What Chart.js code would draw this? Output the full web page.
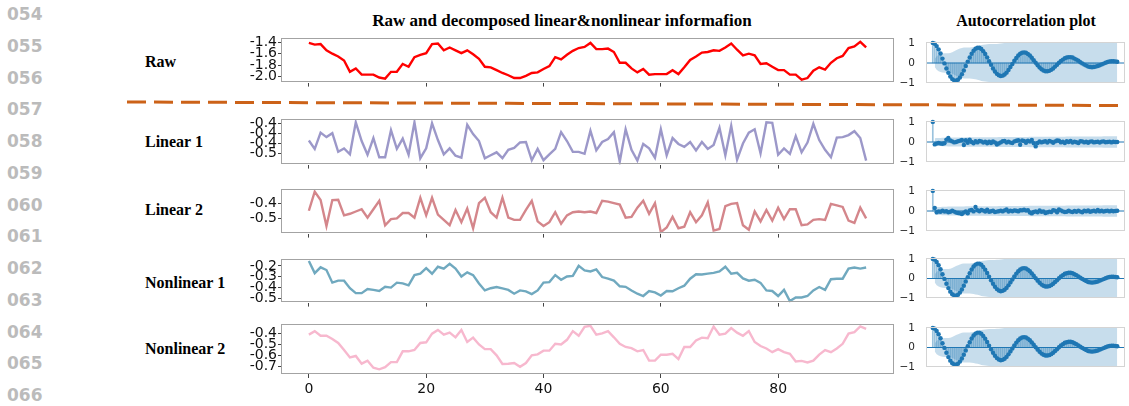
<!DOCTYPE html>
<html lang="en">
<head>
<meta charset="UTF-8">
<title>Raw and decomposed linear&amp;nonlinear informafion</title>
<script src="https://cdn.jsdelivr.net/npm/chart.js"></script>
<style>
  body { margin: 0; background: #fff; }
  #page { position: relative; width: 1129px; height: 406px; overflow: hidden; background: #fff; }
  .num { position: absolute; left: 7px; font: bold 17px 'DejaVu Sans'; line-height: 17px; color: #bbbbbb; }
  .row { position: absolute; left: 145px; font: bold 16px 'Liberation Serif'; line-height: 16px; color: #000; white-space: nowrap; }
  .title { position: absolute; font: bold 17px 'Liberation Serif'; line-height: 17px; color: #000; white-space: nowrap; transform: translateX(-50%); }
  canvas { position: absolute; }
  svg { position: absolute; left: 0; top: 0; }
</style>
</head>
<body>
<div id="page">
  <!-- margin line numbers -->
  <div class="num" style="top:6px">054</div>
  <div class="num" style="top:37.5px">055</div>
  <div class="num" style="top:69.5px">056</div>
  <div class="num" style="top:101px">057</div>
  <div class="num" style="top:133px">058</div>
  <div class="num" style="top:164.5px">059</div>
  <div class="num" style="top:196.5px">060</div>
  <div class="num" style="top:228px">061</div>
  <div class="num" style="top:260px">062</div>
  <div class="num" style="top:291.5px">063</div>
  <div class="num" style="top:323.5px">064</div>
  <div class="num" style="top:355px">065</div>
  <div class="num" style="top:387px">066</div>

  <div class="title" style="left:562px; top:12px">Raw and decomposed linear&amp;nonlinear informafion</div>
  <div class="title" style="left:1026px; top:12px; font-size:16px">Autocorrelation plot</div>

  <div class="row" style="top:54px">Raw</div>
  <div class="row" style="top:134px">Linear 1</div>
  <div class="row" style="top:202px">Linear 2</div>
  <div class="row" style="top:275px">Nonlinear 1</div>
  <div class="row" style="top:341px">Nonlinear 2</div>

  <!-- separator between raw series and its components -->
  <svg width="1129" height="406">
    <line x1="127" y1="102" x2="1121" y2="105.5" stroke="#cc6218" stroke-width="3" stroke-dasharray="19 8"/>
  </svg>
</div>

<script>
  Chart.defaults.font.family = "'DejaVu Sans'";
  Chart.defaults.animation = false;

  const xTicks = [0, 20, 40, 60, 80];

  const rawValues = [
    -1.41, -1.44, -1.43, -1.54, -1.60, -1.65, -1.72, -1.92, -1.86, -1.97,
    -1.97, -1.97, -2.02, -2.04, -1.92, -1.92, -1.78, -1.83, -1.66, -1.62,
    -1.59, -1.43, -1.42, -1.54, -1.49, -1.54, -1.59, -1.54, -1.61, -1.69,
    -1.83, -1.84, -1.89, -1.94, -1.98, -2.03, -2.03, -1.99, -1.94, -1.93,
    -1.87, -1.82, -1.66, -1.70, -1.62, -1.55, -1.50, -1.48, -1.41, -1.52,
    -1.52, -1.51, -1.57, -1.76, -1.76, -1.86, -1.93, -1.87, -1.97, -1.96,
    -1.96, -1.96, -1.89, -1.96, -1.84, -1.71, -1.65, -1.58, -1.57, -1.54,
    -1.55, -1.49, -1.42, -1.53, -1.63, -1.60, -1.63, -1.78, -1.77, -1.83,
    -1.89, -1.89, -1.97, -1.97, -2.06, -2.03, -1.90, -1.84, -1.88, -1.76,
    -1.68, -1.64, -1.50, -1.47, -1.39, -1.49
  ];
  const linear1Values = [
    -0.434, -0.451, -0.418, -0.427, -0.419, -0.457, -0.450, -0.462, -0.397, -0.435,
    -0.463, -0.429, -0.468, -0.468, -0.413, -0.451, -0.430, -0.463, -0.397, -0.470,
    -0.450, -0.399, -0.433, -0.462, -0.450, -0.465, -0.469, -0.402, -0.421, -0.435,
    -0.470, -0.464, -0.458, -0.470, -0.453, -0.449, -0.438, -0.437, -0.474, -0.451,
    -0.474, -0.462, -0.451, -0.417, -0.435, -0.457, -0.457, -0.461, -0.414, -0.454,
    -0.437, -0.431, -0.417, -0.477, -0.411, -0.453, -0.475, -0.441, -0.450, -0.469,
    -0.411, -0.464, -0.429, -0.441, -0.447, -0.437, -0.454, -0.437, -0.451, -0.443,
    -0.408, -0.464, -0.404, -0.473, -0.440, -0.418, -0.411, -0.460, -0.397, -0.398,
    -0.463, -0.450, -0.461, -0.425, -0.458, -0.438, -0.400, -0.433, -0.453, -0.468,
    -0.428, -0.427, -0.423, -0.415, -0.429, -0.475
  ];
  const linear2Values = [
    -0.450, -0.325, -0.380, -0.550, -0.380, -0.378, -0.480, -0.470, -0.455, -0.440,
    -0.495, -0.440, -0.385, -0.545, -0.505, -0.500, -0.465, -0.465, -0.495, -0.365,
    -0.480, -0.365, -0.475, -0.510, -0.545, -0.445, -0.525, -0.435, -0.565, -0.400,
    -0.365, -0.460, -0.495, -0.365, -0.495, -0.510, -0.510, -0.445, -0.385, -0.520,
    -0.550, -0.525, -0.460, -0.535, -0.480, -0.460, -0.455, -0.460, -0.455, -0.465,
    -0.385, -0.390, -0.400, -0.410, -0.495, -0.490, -0.430, -0.385, -0.470, -0.400,
    -0.590, -0.560, -0.490, -0.565, -0.555, -0.460, -0.525, -0.480, -0.395, -0.580,
    -0.570, -0.420, -0.405, -0.400, -0.545, -0.575, -0.455, -0.520, -0.445, -0.515,
    -0.430, -0.505, -0.440, -0.440, -0.545, -0.540, -0.510, -0.505, -0.510, -0.405,
    -0.415, -0.425, -0.515, -0.530, -0.430, -0.500
  ];
  const nonlinear1Values = [
    -0.155, -0.266, -0.213, -0.238, -0.353, -0.335, -0.335, -0.404, -0.449, -0.449,
    -0.411, -0.419, -0.429, -0.391, -0.398, -0.353, -0.360, -0.378, -0.284, -0.271,
    -0.220, -0.271, -0.208, -0.225, -0.182, -0.225, -0.297, -0.259, -0.284, -0.360,
    -0.424, -0.404, -0.393, -0.406, -0.419, -0.454, -0.424, -0.432, -0.457, -0.424,
    -0.353, -0.348, -0.284, -0.327, -0.297, -0.292, -0.200, -0.241, -0.251, -0.233,
    -0.302, -0.317, -0.335, -0.386, -0.391, -0.424, -0.454, -0.475, -0.429, -0.442,
    -0.470, -0.429, -0.432, -0.404, -0.381, -0.317, -0.276, -0.279, -0.271, -0.264,
    -0.251, -0.208, -0.271, -0.264, -0.315, -0.335, -0.327, -0.355, -0.424, -0.429,
    -0.475, -0.419, -0.521, -0.488, -0.488, -0.475, -0.424, -0.393, -0.419, -0.322,
    -0.317, -0.317, -0.225, -0.215, -0.225, -0.215
  ];
  const nonlinear2Values = [
    -0.409, -0.377, -0.420, -0.420, -0.449, -0.486, -0.551, -0.620, -0.606, -0.677,
    -0.649, -0.714, -0.729, -0.709, -0.663, -0.663, -0.563, -0.563, -0.551, -0.486,
    -0.480, -0.400, -0.366, -0.409, -0.391, -0.434, -0.366, -0.477, -0.437, -0.500,
    -0.543, -0.543, -0.600, -0.680, -0.677, -0.671, -0.706, -0.671, -0.600, -0.591,
    -0.557, -0.557, -0.494, -0.500, -0.457, -0.377, -0.420, -0.337, -0.329, -0.409,
    -0.397, -0.377, -0.434, -0.494, -0.523, -0.534, -0.563, -0.551, -0.649, -0.649,
    -0.594, -0.594, -0.586, -0.634, -0.523, -0.523, -0.463, -0.437, -0.443, -0.334,
    -0.409, -0.400, -0.349, -0.391, -0.420, -0.377, -0.477, -0.514, -0.537, -0.571,
    -0.543, -0.571, -0.586, -0.657, -0.651, -0.666, -0.649, -0.594, -0.551, -0.571,
    -0.537, -0.494, -0.400, -0.386, -0.334, -0.357
  ];

  // y tick positions and the text printed next to them
  const rawTicks = [-1.4, -1.6, -1.8, -2.0];
  const rawTickLabels = ['-1.4', '-1.6', '-1.8', '-2.0'];
  const linear1Ticks = [-0.40, -0.42, -0.44, -0.46];
  const linear1TickLabels = ['-0.4', '-0.4', '-0.4', '-0.5'];
  const linear2Ticks = [-0.4, -0.5];
  const linear2TickLabels = ['-0.4', '-0.5'];
  const nonlinear1Ticks = [-0.2, -0.3, -0.4, -0.5];
  const nonlinear1TickLabels = ['-0.2', '-0.3', '-0.4', '-0.5'];
  const nonlinear2Ticks = [-0.4, -0.5, -0.6, -0.7];
  const nonlinear2TickLabels = ['-0.4', '-0.5', '-0.6', '-0.7'];

  // autocorrelation by lag (0..95)
  const acfPeriodic = [
    1.00, 0.96, 0.84, 0.68, 0.47, 0.22, -0.02, -0.27, -0.49, -0.67,
    -0.80, -0.87, -0.88, -0.83, -0.72, -0.56, -0.37, -0.15, 0.07, 0.27,
    0.46, 0.61, 0.71, 0.76, 0.76, 0.70, 0.59, 0.45, 0.28, 0.09,
    -0.09, -0.27, -0.42, -0.54, -0.61, -0.65, -0.63, -0.57, -0.48, -0.35,
    -0.20, -0.05, 0.11, 0.25, 0.37, 0.46, 0.51, 0.53, 0.51, 0.45,
    0.37, 0.26, 0.14, 0.01, -0.11, -0.22, -0.31, -0.37, -0.41, -0.41,
    -0.39, -0.34, -0.27, -0.18, -0.09, 0.01, 0.10, 0.17, 0.24, 0.27,
    0.29, 0.29, 0.27, 0.22, 0.17, 0.11, 0.04, -0.02, -0.08, -0.13,
    -0.18, -0.20, -0.21, -0.20, -0.18, -0.15, -0.11, -0.07, -0.03, 0.01,
    0.05, 0.08, 0.09, 0.09, 0.08, 0.06
  ];
  const acfLinear1 = [
    1.00, -0.12, -0.08, -0.05, -0.08, -0.09, -0.06, 0.12, 0.20, 0.08,
    0.03, -0.02, 0.00, 0.04, 0.07, 0.10, -0.15, 0.09, -0.04, 0.12,
    0.00, -0.06, 0.04, -0.02, 0.05, 0.03, -0.03, 0.01, -0.06, 0.02,
    -0.05, 0.03, -0.02, -0.13, -0.08, -0.02, 0.04, 0.05, -0.03, 0.02,
    -0.03, -0.05, 0.03, 0.06, 0.09, -0.14, 0.08, 0.05, -0.04, 0.06,
    0.02, 0.10, -0.06, -0.22, -0.05, 0.03, -0.02, 0.01, 0.04, -0.03,
    0.05, 0.02, -0.04, 0.03, 0.08, 0.06, -0.02, 0.01, -0.05, 0.04,
    0.00, 0.05, -0.03, 0.02, -0.01, -0.05, 0.04, 0.03, -0.02, 0.01,
    -0.04, 0.02, 0.03, -0.02, 0.00, 0.01, -0.03, 0.02, 0.03, -0.01,
    0.00, 0.02, -0.02, 0.01, 0.00, 0.00
  ];
  const acfLinear2 = [
    1.00, 0.15, -0.06, -0.02, -0.04, 0.02, -0.03, -0.01, -0.06, -0.04,
    0.01, -0.03, -0.08, -0.10, -0.12, -0.15, -0.08, -0.02, -0.11, 0.03,
    0.05, -0.02, 0.20, 0.04, -0.01, 0.05, 0.02, -0.03, 0.06, -0.04,
    -0.01, 0.02, -0.05, -0.03, -0.01, 0.02, -0.02, 0.03, 0.08, -0.03,
    0.02, -0.01, 0.03, 0.01, -0.02, 0.04, 0.03, 0.06, 0.02, 0.04,
    -0.08, -0.12, -0.05, -0.02, -0.06, 0.03, -0.04, -0.02, -0.10, -0.07,
    -0.03, -0.05, 0.04, 0.02, -0.06, 0.08, 0.03, -0.02, -0.05, -0.04,
    0.01, -0.03, -0.05, 0.00, -0.04, 0.02, -0.03, -0.06, 0.01, -0.02,
    0.03, -0.04, -0.01, 0.02, -0.03, 0.05, -0.02, 0.01, -0.03, 0.00,
    0.02, -0.02, 0.01, -0.01, 0.00, 0.01
  ];

  // 95% confidence half-width, lags 1..95
  const bandPeriodic = [
    0.20, 0.34, 0.41, 0.45, 0.47, 0.48, 0.48, 0.49, 0.50, 0.54,
    0.59, 0.64, 0.68, 0.72, 0.75, 0.77, 0.77, 0.77, 0.77, 0.78,
    0.79, 0.81, 0.83, 0.86, 0.89, 0.91, 0.92, 0.93, 0.94, 0.94,
    0.94, 0.94, 0.95, 0.96, 0.97, 0.98, 0.99, 1.00, 1.00, 1.00,
    1.00, 1.00, 1.00, 1.00, 1.00, 1.00, 1.00, 1.00, 1.00, 1.00,
    1.00, 1.00, 1.00, 1.00, 1.00, 1.00, 1.00, 1.00, 1.00, 1.00,
    1.00, 1.00, 1.00, 1.00, 1.00, 1.00, 1.00, 1.00, 1.00, 1.00,
    1.00, 1.00, 1.00, 1.00, 1.00, 1.00, 1.00, 1.00, 1.00, 1.00,
    1.00, 1.00, 1.00, 1.00, 1.00, 1.00, 1.00, 1.00, 1.00, 1.00,
    1.00, 1.00, 1.00, 1.00, 1.00
  ];
  const bandNoise = [
    0.19, 0.20, 0.20, 0.20, 0.21, 0.21, 0.21, 0.22, 0.23, 0.23,
    0.23, 0.23, 0.23, 0.23, 0.23, 0.23, 0.24, 0.24, 0.24, 0.24,
    0.24, 0.24, 0.24, 0.24, 0.24, 0.24, 0.24, 0.24, 0.24, 0.24,
    0.24, 0.24, 0.24, 0.25, 0.25, 0.25, 0.25, 0.25, 0.25, 0.25,
    0.25, 0.25, 0.25, 0.25, 0.25, 0.25, 0.25, 0.25, 0.25, 0.26,
    0.26, 0.26, 0.26, 0.26, 0.26, 0.26, 0.26, 0.26, 0.26, 0.26,
    0.26, 0.26, 0.26, 0.26, 0.26, 0.26, 0.26, 0.26, 0.27, 0.27,
    0.27, 0.27, 0.27, 0.27, 0.27, 0.27, 0.27, 0.27, 0.27, 0.27,
    0.27, 0.27, 0.27, 0.27, 0.27, 0.27, 0.27, 0.28, 0.28, 0.28,
    0.28, 0.28, 0.28, 0.28, 0.28
  ];
  const acfTicks = [-1, 0, 1];
  const acfTickLabels = ['\u22121', '0', '1'];

  // one row per component: series panel on the left, ACF on the right
  const rows = [
    { values: rawValues, color: '#ff0000', ticks: rawTicks, labels: rawTickLabels, min: -2.11, max: -1.33,
      top: 37, bottom: 87, acf: acfPeriodic, band: bandPeriodic, acfTop: 39, acfBottom: 90 },
    { values: linear1Values, color: '#9c98c9', ticks: linear1Ticks, labels: linear1TickLabels, min: -0.483, max: -0.391,
      top: 118, bottom: 169, acf: acfLinear1, band: bandNoise, acfTop: 118, acfBottom: 169 },
    { values: linear2Values, color: '#d4868b', ticks: linear2Ticks, labels: linear2TickLabels, min: -0.60, max: -0.31,
      top: 188, bottom: 238, acf: acfLinear2, band: bandNoise, acfTop: 187, acfBottom: 238 },
    { values: nonlinear1Values, color: '#70a9bf', ticks: nonlinear1Ticks, labels: nonlinear1TickLabels, min: -0.535, max: -0.141,
      top: 258, bottom: 307, acf: acfPeriodic, band: bandPeriodic, acfTop: 255, acfBottom: 305 },
    { values: nonlinear2Values, color: '#f7b8ce', ticks: nonlinear2Ticks, labels: nonlinear2TickLabels, min: -0.772, max: -0.315,
      top: 323, bottom: 374, acf: acfPeriodic, band: bandPeriodic, acfTop: 324, acfBottom: 374 }
  ];

  // box around the plot area (chart.js only draws the left/bottom borders)
  const framePlugin = {
    id: 'frame',
    afterDatasetsDraw(chart, args, opts) {
      const { ctx, chartArea: a } = chart;
      ctx.save();
      ctx.strokeStyle = opts.color;
      ctx.lineWidth = 1;
      ctx.strokeRect(Math.round(a.left) + 0.5, Math.round(a.top) + 0.5,
                     Math.round(a.width) - 1, Math.round(a.height) - 1);
      ctx.restore();
    }
  };

  const page = document.getElementById('page');

  function addCanvas(left, top, w, h) {
    const cv = document.createElement('canvas');
    cv.width = w;
    cv.height = h;
    cv.style.left = left + 'px';
    cv.style.top = top + 'px';
    page.appendChild(cv);
    return cv;
  }

  function drawSeries(r, isLast) {
    const padTop = 8;
    const axisH = isLast ? 27 : 5;
    const cv = addCanvas(221, r.top - padTop, 675, r.bottom - r.top + padTop + axisH);
    new Chart(cv, {
      type: 'line',
      data: {
        datasets: [{
          data: r.values.map((v, i) => ({ x: i, y: v })),
          borderColor: r.color,
          borderWidth: 2.4,
          pointRadius: 0,
          tension: 0,
          fill: false
        }]
      },
      options: {
        responsive: false,
        devicePixelRatio: 1,
        layout: { padding: { top: padTop, right: 2, left: 0, bottom: 0 } },
        plugins: { legend: { display: false }, tooltip: { enabled: false }, frame: { color: '#a3a3a3' } },
        scales: {
          x: {
            type: 'linear', min: -4.75, max: 99.75,
            afterBuildTicks: s => { s.ticks = xTicks.map(v => ({ value: v })); },
            afterFit: s => { s.height = axisH; },
            grid: { drawOnChartArea: false, tickLength: 4, color: '#444' },
            border: { display: false },
            ticks: { display: isLast, font: { size: 14 }, color: '#111', padding: 3, maxRotation: 0, autoSkip: false }
          },
          y: {
            min: r.min, max: r.max,
            afterBuildTicks: s => { s.ticks = r.ticks.map(v => ({ value: v })); },
            afterFit: s => { s.width = 60; },
            grid: { drawOnChartArea: false, tickLength: 3, color: '#444' },
            border: { display: false },
            ticks: { font: { size: 14 }, color: '#111', padding: 1, autoSkip: false,
                     callback: (v, i) => r.labels[i] }
          }
        }
      },
      plugins: [framePlugin]
    });
  }

  function drawAcf(r) {
    const padTop = 6, padBottom = 3;
    const cv = addCanvas(896, r.acfTop - padTop, 233, r.acfBottom - r.acfTop + padTop + padBottom);
    const lagPoints = r.acf.map((v, i) => ({ x: i, y: v }));
    new Chart(cv, {
      type: 'line',
      data: {
        datasets: [
          { data: r.band.map((b, k) => ({ x: k + 1, y: b })), borderWidth: 0, pointRadius: 0, tension: 0,
            backgroundColor: 'rgba(31,119,180,0.25)', fill: '+1' },
          { data: r.band.map((b, k) => ({ x: k + 1, y: -b })), borderWidth: 0, pointRadius: 0, tension: 0, fill: false },
          { data: [{ x: -3.5, y: 0 }, { x: 99, y: 0 }], borderColor: '#1f77b4', borderWidth: 1, pointRadius: 0 },
          { type: 'bar', data: lagPoints, backgroundColor: 'rgba(31,119,180,0.45)', barThickness: 1 },
          { type: 'scatter', data: lagPoints, pointRadius: 2.2, backgroundColor: '#1f77b4', borderWidth: 0, clip: false }
        ]
      },
      options: {
        responsive: false,
        devicePixelRatio: 1,
        layout: { padding: { top: padTop, right: 1, left: 0, bottom: padBottom } },
        plugins: { legend: { display: false }, tooltip: { enabled: false }, frame: { color: '#d4d4d4' } },
        scales: {
          x: { type: 'linear', min: -3.5, max: 99, display: false, offset: false, grid: { offset: false } },
          y: {
            min: -1.03, max: 1.03,
            afterBuildTicks: s => { s.ticks = acfTicks.map(v => ({ value: v })); },
            afterFit: s => { s.width = 30; },
            grid: { display: false },
            border: { display: false },
            ticks: { font: { size: 10.5 }, color: '#262626', padding: 3, autoSkip: false,
                     callback: (v, i) => acfTickLabels[i] }
          }
        }
      },
      plugins: [framePlugin]
    });
  }

  rows.forEach((r, i) => {
    drawSeries(r, i === rows.length - 1);
    drawAcf(r);
  });
</script>
</body>
</html>
